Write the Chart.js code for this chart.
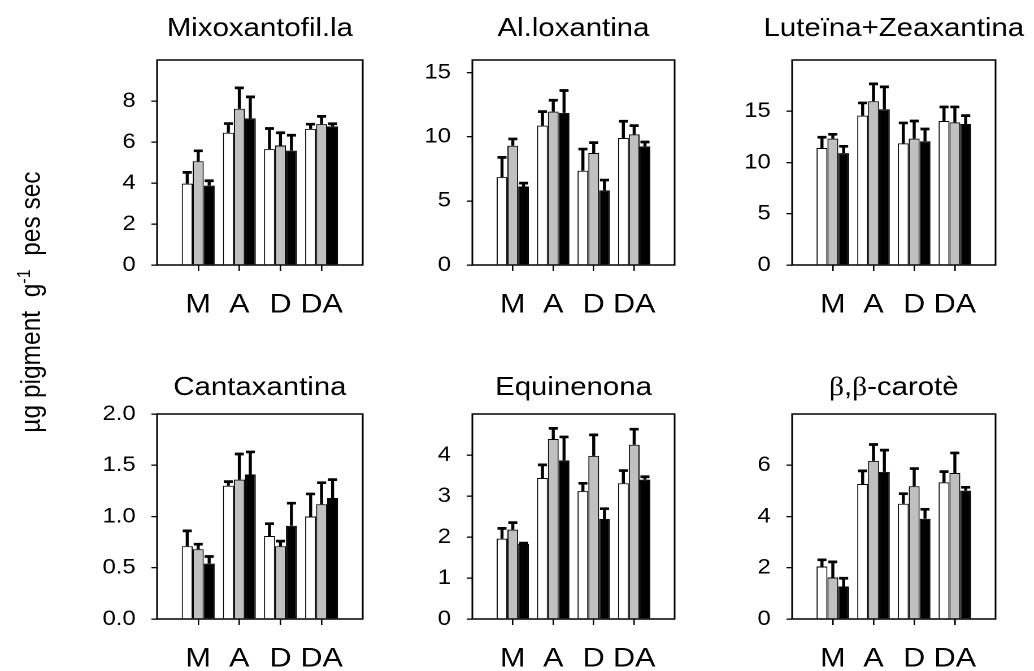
<!DOCTYPE html>
<html lang="ca">
<head>
<meta charset="UTF-8">
<title>Pigments</title>
<style>
  body { margin: 0; background: #fff; overflow: hidden; }
  #page {
    position: relative;
    width: 915px;
    height: 671px;
    transform: scaleX(1.13);
    transform-origin: 0 0;
    font-family: "Liberation Sans", Arial, sans-serif;
  }
  #page canvas { position: absolute; }
  .ylabel {
    position: absolute;
    left: 27px;
    top: 302px;
    transform: translate(-50%, -50%) rotate(-90deg);
    white-space: pre;
    font-size: 24.5px;
    color: #000;
  }
  .ylabel sup { font-size: 16px; }
</style>
</head>
<body>
<div id="page">
  <div class="ylabel">µg pigment  g<sup>-1</sup>  pes sec</div>
</div>

<script src="https://cdn.jsdelivr.net/npm/chart.js"></script>
<script>
// groups on the x axis and one row of bars per treatment (white, grey, black)
const groups = ['M', 'A', 'D', 'DA'];
const titles = ['Mixoxantofil.la', 'Al.loxantina', 'Luteïna+Zeaxantina', 'Cantaxantina', 'Equinenona', 'β,β-carotè'];

const mixoMeans = [[3.97, 6.45, 5.65, 6.64], [5.06, 7.62, 5.83, 6.87], [3.87, 7.15, 5.58, 6.76]];
const mixoErr = [[0.55, 0.45, 1.01, 0.23], [0.51, 1.02, 0.62, 0.38], [0.24, 1.05, 0.75, 0.13]];

const alloMeans = [[6.86, 10.88, 7.36, 9.91], [9.31, 11.97, 8.74, 10.2], [6.13, 11.87, 5.82, 9.26]];
const alloErr = [[1.54, 1.09, 1.69, 1.31], [0.53, 0.89, 0.81, 0.68], [0.26, 1.75, 0.81, 0.34]];

const luteMeans = [[11.41, 14.57, 11.87, 14.05], [12.33, 15.98, 12.33, 13.92], [10.92, 15.19, 12.07, 13.76]];
const luteErr = [[1.05, 1.24, 1.99, 1.37], [0.42, 1.69, 1.72, 1.5], [0.66, 2.19, 1.2, 0.81]];

const cantaMeans = [[0.71, 1.30, 0.81, 1.00], [0.68, 1.36, 0.71, 1.12], [0.54, 1.41, 0.91, 1.18]];
const cantaErr = [[0.15, 0.04, 0.12, 0.22], [0.05, 0.25, 0.05, 0.21], [0.07, 0.22, 0.22, 0.18]];

const equiMeans = [[1.96, 3.44, 3.12, 3.31], [2.18, 4.39, 3.98, 4.25], [1.83, 3.87, 2.44, 3.40]];
const equiErr = [[0.25, 0.32, 0.19, 0.31], [0.17, 0.26, 0.51, 0.38], [0.02, 0.57, 0.25, 0.07]];

const caroMeans = [[2.05, 5.27, 4.50, 5.33], [1.62, 6.17, 5.18, 5.70], [1.27, 5.74, 3.91, 5.01]];
const caroErr = [[0.26, 0.51, 0.39, 0.42], [0.61, 0.64, 0.69, 0.78], [0.32, 0.85, 0.37, 0.13]];

const yMax = [10, 16, 20, 2, 5, 8];
const yTicks = [[0, 2, 4, 6, 8], [0, 5, 10, 15], [0, 5, 10, 15], [0, 0.5, 1, 1.5, 2], [0, 1, 2, 3, 4], [0, 2, 4, 6]];
const yDecimals = [0, 0, 0, 1, 0, 0];

const allMeans = [mixoMeans, alloMeans, luteMeans, cantaMeans, equiMeans, caroMeans];
const allErr = [mixoErr, alloErr, luteErr, cantaErr, equiErr, caroErr];

// page layout (unstretched coordinates)
const colLeft = [139, 418, 701];
const colWidth = [182, 179, 180];
const rowTop = [0, 354];
const titleGap = [24, 19];
const barColors = ['#ffffff', '#c0c0c0', '#000000'];
const sans = '"Liberation Sans", Arial, sans-serif';
const serif = '"Liberation Serif", "Times New Roman", serif';

// box around the plot area
const framePlugin = {
  id: 'frame',
  afterDatasetsDraw(chart) {
    const a = chart.chartArea, ctx = chart.ctx;
    ctx.save();
    ctx.strokeStyle = '#000';
    ctx.lineWidth = 1.5;
    ctx.strokeRect(a.left, a.top, a.right - a.left, a.bottom - a.top);
    ctx.restore();
  }
};

// upper error bars only
const errorBarPlugin = {
  id: 'errorBars',
  afterDatasetsDraw(chart) {
    const ctx = chart.ctx, y = chart.scales.y;
    ctx.save();
    ctx.strokeStyle = '#000';
    ctx.lineWidth = 2.7;
    ctx.lineCap = 'butt';
    chart.data.datasets.forEach((ds, i) => {
      chart.getDatasetMeta(i).data.forEach((bar, j) => {
        const v = ds.data[j];
        if (v == null) return;
        const top = y.getPixelForValue(v + ds.errors[j]);
        ctx.beginPath();
        ctx.moveTo(bar.x, bar.y);
        ctx.lineTo(bar.x, top);
        ctx.moveTo(bar.x - 4, top);
        ctx.lineTo(bar.x + 4, top);
        ctx.stroke();
      });
    });
    ctx.restore();
  }
};

// title above each panel; greek letters in a serif face
const titlePlugin = {
  id: 'panelTitle',
  afterDraw(chart) {
    const o = chart.options.plugins.panelTitle;
    const a = chart.chartArea, ctx = chart.ctx;
    const runs = [];
    for (const ch of o.text) {
      const greek = /[\u0370-\u03FF]/.test(ch);
      const last = runs[runs.length - 1];
      if (last && last.greek === greek) last.s += ch;
      else runs.push({ s: ch, greek });
    }
    ctx.save();
    ctx.fillStyle = '#000';
    ctx.textBaseline = 'alphabetic';
    let total = 0;
    runs.forEach(r => {
      ctx.font = '26px ' + (r.greek ? serif : sans);
      r.w = ctx.measureText(r.s).width;
      total += r.w;
    });
    let x = (a.left + a.right) / 2 - total / 2;
    const yb = a.top - o.gap;
    runs.forEach(r => {
      ctx.font = '26px ' + (r.greek ? serif : sans);
      ctx.fillText(r.s, x, yb);
      x += r.w;
    });
    ctx.restore();
  }
};

const page = document.getElementById('page');

titles.forEach((title, i) => {
  const col = i % 3, row = Math.floor(i / 3);
  const canvas = document.createElement('canvas');
  canvas.width = 60 + colWidth[col] + 60;
  canvas.height = 325;
  canvas.style.left = (colLeft[col] - 60) + 'px';
  canvas.style.top = rowTop[row] + 'px';
  page.appendChild(canvas);

  const ticks = yTicks[i];
  new Chart(canvas, {
    type: 'bar',
    data: {
      labels: ['', ...groups, ''],
      datasets: allMeans[i].map((vals, k) => ({
        data: [null, ...vals, null],
        errors: [0, ...allErr[i][k], 0],
        backgroundColor: barColors[k],
        borderColor: '#000',
        borderWidth: 1,
        categoryPercentage: 0.8,
        barPercentage: 1.0
      }))
    },
    options: {
      responsive: false,
      animation: false,
      devicePixelRatio: 2,
      layout: { padding: { top: 60, right: 60, left: 0, bottom: 0 } },
      plugins: {
        legend: { display: false },
        tooltip: { enabled: false },
        panelTitle: { text: title, gap: titleGap[row] }
      },
      scales: {
        x: {
          offset: false,
          border: { display: false },
          grid: {
            offset: false,
            drawOnChartArea: false,
            tickLength: 6,
            lineWidth: 1.3,
            tickColor: c => (c.index === 0 || c.index === groups.length + 1) ? 'rgba(0,0,0,0)' : '#000'
          },
          ticks: {
            color: '#000',
            padding: 18,
            maxRotation: 0,
            autoSkip: false,
            font: { family: sans, size: 27 }
          },
          afterFit: s => { s.height = 60; }
        },
        y: {
          min: 0,
          max: yMax[i],
          border: { display: false },
          grid: { drawOnChartArea: false, tickLength: 5, lineWidth: 1.3, tickColor: '#000' },
          ticks: {
            color: '#000',
            padding: 14,
            font: { family: sans, size: 21 },
            callback: v => Number(v).toFixed(yDecimals[i])
          },
          afterBuildTicks: s => { s.ticks = ticks.map(v => ({ value: v })); },
          afterFit: s => { s.width = 60; }
        }
      }
    },
    plugins: [framePlugin, errorBarPlugin, titlePlugin]
  });
});
</script>
</body>
</html>
